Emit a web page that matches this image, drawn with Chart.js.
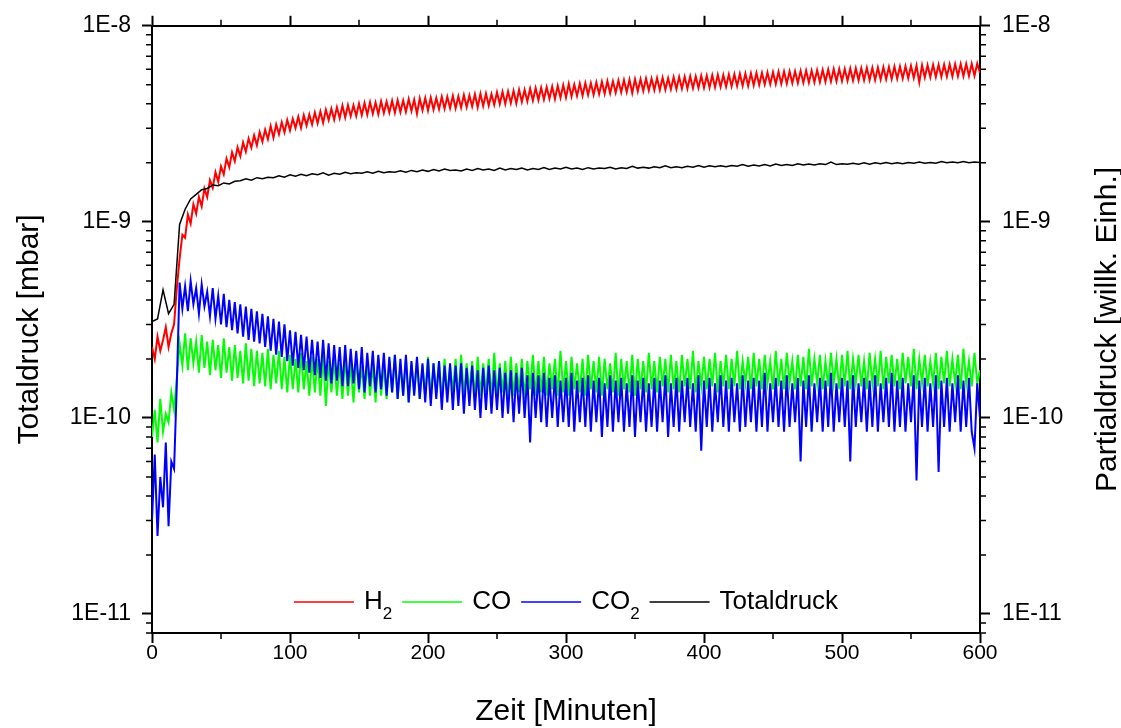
<!DOCTYPE html>
<html>
<head>
<meta charset="utf-8">
<script src="https://cdn.jsdelivr.net/npm/chart.js@4.4.1/dist/chart.umd.min.js"></script>
<style>
  html, body { margin: 0; padding: 0; background: #fff; }
  #wrap { width: 1121px; height: 728px; position: relative; }
</style>
</head>
<body>
<div id="wrap"><canvas id="myChart"></canvas></div>
<script>
// Zeit in Minuten (Partialdrücke, alle 2 min)
const zeit = [0,2,4,6,8,10,12,14,16,18,20,22,24,26,28,30,32,34,36,38,
  40,42,44,46,48,50,52,54,56,58,60,62,64,66,68,70,72,74,76,78,
  80,82,84,86,88,90,92,94,96,98,100,102,104,106,108,110,112,114,116,118,
  120,122,124,126,128,130,132,134,136,138,140,142,144,146,148,150,152,154,156,158,
  160,162,164,166,168,170,172,174,176,178,180,182,184,186,188,190,192,194,196,198,
  200,202,204,206,208,210,212,214,216,218,220,222,224,226,228,230,232,234,236,238,
  240,242,244,246,248,250,252,254,256,258,260,262,264,266,268,270,272,274,276,278,
  280,282,284,286,288,290,292,294,296,298,300,302,304,306,308,310,312,314,316,318,
  320,322,324,326,328,330,332,334,336,338,340,342,344,346,348,350,352,354,356,358,
  360,362,364,366,368,370,372,374,376,378,380,382,384,386,388,390,392,394,396,398,
  400,402,404,406,408,410,412,414,416,418,420,422,424,426,428,430,432,434,436,438,
  440,442,444,446,448,450,452,454,456,458,460,462,464,466,468,470,472,474,476,478,
  480,482,484,486,488,490,492,494,496,498,500,502,504,506,508,510,512,514,516,518,
  520,522,524,526,528,530,532,534,536,538,540,542,544,546,548,550,552,554,556,558,
  560,562,564,566,568,570,572,574,576,578,580,582,584,586,588,590,592,594,596,598,600];

// Zeit in Minuten (Totaldruck, alle 4 min)
const zeitTotal = [0,4,8,12,16,20,24,28,32,36,40,44,48,52,56,60,64,68,72,76,80,84,88,92,96,100,104,108,112,116,120,124,128,132,136,140,144,148,152,156,160,164,168,172,176,180,184,188,192,196,200,204,208,212,216,220,224,228,232,236,240,244,248,252,256,260,264,268,272,276,280,284,288,292,296,300,304,308,312,316,320,324,328,332,336,340,344,348,352,356,360,364,368,372,376,380,384,388,392,396,400,404,408,412,416,420,424,428,432,436,440,444,448,452,456,460,464,468,472,476,480,484,488,492,496,500,504,508,512,516,520,524,528,532,536,540,544,548,552,556,560,564,568,572,576,580,584,588,592,596,600];

// Werte in Einheiten von 1E-10
const h2 = [
  2.3, 2.0, 2.6, 2.2, 2.5, 2.9, 2.3, 2.7, 3.0, 4.6,
  6.5, 8.6, 8.3, 10.9, 9.8, 12.3, 11.0, 13.4, 12.0, 14.8,
  13.4, 16.3, 14.9, 17.9, 16.0, 19.2, 17.5, 21.0, 19.0, 22.6,
  20.4, 24.0, 21.6, 25.4, 22.8, 26.6, 23.9, 27.6, 24.6, 28.7,
  25.6, 29.5, 26.4, 30.8, 26.9, 31.4, 28.0, 32.2, 28.6, 33.1,
  29.3, 33.5, 30.1, 34.4, 30.2, 35.0, 31.0, 35.3, 31.4, 36.1,
  31.8, 36.5, 32.0, 37.3, 33.1, 37.8, 33.2, 38.4, 33.8, 39.2,
  34.1, 39.4, 34.6, 39.3, 34.7, 40.1, 35.0, 40.4, 35.2, 40.8,
  35.6, 40.6, 35.4, 41.2, 35.9, 41.0, 36.1, 41.5, 36.0, 41.7,
  36.3, 41.6, 36.4, 42.3, 36.8, 42.0, 35.6, 42.6, 37.1, 42.8,
  37.0, 43.0, 37.4, 42.8, 37.6, 43.5, 37.8, 43.4, 38.0, 43.9,
  38.0, 43.7, 38.3, 44.3, 38.5, 44.1, 38.8, 44.8, 38.4, 45.0,
  39.0, 45.1, 39.2, 44.8, 39.6, 45.8, 39.9, 46.1, 40.0, 46.3,
  40.4, 46.6, 40.2, 47.2, 41.0, 47.1, 41.2, 47.8, 41.6, 48.1,
  41.8, 48.3, 42.1, 48.6, 42.5, 49.0, 42.3, 49.4, 43.0, 49.8,
  43.1, 50.6, 43.6, 50.1, 43.9, 50.8, 44.0, 51.1, 44.4, 51.0,
  44.5, 51.4, 44.9, 51.8, 45.0, 52.2, 45.3, 52.1, 45.6, 52.6,
  45.8, 52.9, 46.0, 53.1, 45.4, 53.4, 46.4, 53.4, 46.6, 53.8,
  46.8, 53.8, 47.0, 54.2, 47.1, 54.4, 47.3, 54.1, 47.5, 54.7,
  47.6, 54.8, 47.8, 55.0, 47.9, 55.3, 48.1, 55.2, 48.2, 55.6,
  48.3, 55.6, 48.4, 55.9, 48.6, 56.2, 48.8, 56.0, 49.0, 56.5,
  49.1, 56.6, 49.3, 56.9, 49.5, 57.1, 49.4, 57.3, 49.8, 57.5,
  50.0, 57.5, 50.2, 57.8, 50.4, 58.0, 50.5, 58.3, 50.6, 58.4,
  50.8, 58.5, 51.0, 58.6, 51.1, 58.9, 51.3, 59.2, 51.4, 59.1,
  51.5, 59.4, 51.7, 59.6, 51.8, 59.8, 52.0, 60.1, 52.1, 60.2,
  52.3, 60.3, 52.4, 60.6, 52.6, 60.7, 52.7, 60.8, 52.8, 61.0,
  52.9, 61.1, 53.0, 61.3, 53.2, 61.5, 53.4, 61.7, 53.5, 61.9,
  53.7, 62.0, 53.9, 62.2, 54.0, 62.5, 54.2, 62.7, 51.5, 62.9,
  54.5, 63.0, 54.7, 63.2, 54.8, 63.3, 55.0, 63.5, 55.1, 63.7,
  55.2, 63.8, 55.3, 63.9, 55.4, 64.0, 55.5, 64.1, 55.6, 64.2,
  57.5];

const co = [
  0.80, 1.10, 0.75, 1.25, 0.85, 1.05, 0.95, 1.35, 1.10, 1.60,
  2.40, 1.85, 2.70, 1.75, 2.55, 1.90, 2.45, 1.70, 2.65, 1.80,
  2.45, 1.65, 2.50, 1.75, 2.35, 1.60, 2.55, 1.70, 2.30, 1.55,
  2.35, 1.60, 2.20, 1.50, 2.40, 1.55, 2.25, 1.45, 2.20, 1.50,
  2.15, 1.45, 2.25, 1.40, 2.10, 1.50, 2.20, 1.40, 2.05, 1.35,
  2.10, 1.40, 2.00, 1.35, 2.15, 1.40, 1.95, 1.30, 2.05, 1.35,
  2.00, 1.30, 2.10, 1.15, 1.95, 1.35, 2.00, 1.30, 1.90, 1.25,
  2.05, 1.30, 1.90, 1.20, 2.00, 1.35, 1.85, 1.25, 1.95, 1.30,
  1.90, 1.20, 2.00, 1.30, 1.85, 1.25, 1.95, 1.35, 2.10, 1.25,
  1.85, 1.30, 2.00, 1.20, 1.90, 1.35, 1.95, 1.25, 1.85, 1.30,
  2.05, 1.25, 1.90, 1.35, 1.95, 1.20, 2.00, 1.30, 1.85, 1.35,
  2.00, 1.25, 2.10, 1.30, 1.90, 1.35, 1.95, 1.25, 2.05, 1.30,
  1.90, 1.35, 2.00, 1.25, 2.15, 1.30, 1.90, 1.35, 1.95, 1.25,
  2.05, 1.30, 1.90, 1.35, 2.00, 1.25, 1.95, 1.40, 2.10, 1.30,
  1.95, 1.35, 2.05, 1.30, 1.90, 1.40, 2.00, 1.30, 2.20, 1.35,
  1.95, 1.30, 2.05, 1.40, 1.90, 1.35, 2.00, 1.30, 2.10, 1.40,
  1.95, 1.35, 2.05, 1.30, 2.00, 1.40, 1.90, 1.35, 2.15, 1.30,
  2.00, 1.40, 1.95, 1.35, 2.10, 1.30, 2.00, 1.40, 1.95, 1.35,
  2.15, 1.40, 1.95, 1.35, 2.05, 1.45, 2.00, 1.35, 2.10, 1.40,
  1.95, 1.35, 2.10, 1.45, 2.00, 1.40, 2.20, 1.35, 1.95, 1.45,
  2.05, 1.40, 2.00, 1.45, 2.15, 1.35, 1.95, 1.45, 2.10, 1.40,
  2.00, 1.45, 2.20, 1.40, 1.95, 1.50, 2.05, 1.40, 2.15, 1.45,
  2.00, 1.40, 2.10, 1.50, 1.95, 1.40, 2.20, 1.45, 2.00, 1.40,
  2.15, 1.50, 1.95, 1.40, 2.10, 1.45, 2.05, 1.40, 2.25, 1.45,
  2.00, 1.50, 2.10, 1.40, 1.95, 1.45, 2.15, 1.50, 2.00, 1.40,
  2.10, 1.45, 2.20, 1.40, 2.00, 1.50, 2.10, 1.45, 1.95, 1.40,
  2.15, 1.50, 2.00, 1.45, 2.20, 1.40, 2.05, 1.50, 2.10, 1.45,
  2.00, 1.40, 2.15, 1.50, 2.05, 1.45, 2.25, 1.40, 2.00, 1.50,
  2.10, 1.45, 1.95, 1.50, 2.15, 1.40, 2.05, 1.50, 2.20, 1.45,
  2.00, 1.50, 2.10, 1.40, 2.25, 1.50, 1.95, 1.45, 2.15, 1.50,
  1.75];

const co2 = [
  0.30, 0.65, 0.25, 0.50, 0.35, 0.75, 0.28, 0.60, 0.55, 1.50,
  4.9, 3.6, 4.7, 3.5, 5.0, 3.8, 4.6, 3.4, 4.8, 3.7,
  4.4, 3.3, 4.6, 3.2, 4.2, 3.0, 4.3, 2.9, 4.0, 2.8,
  3.9, 2.7, 3.8, 2.6, 3.7, 2.5, 3.6, 2.45, 3.5, 2.4,
  3.4, 2.3, 3.3, 2.2, 3.2, 2.1, 3.1, 2.05, 3.0, 1.95,
  2.8, 1.85, 2.75, 1.8, 2.65, 1.75, 2.6, 1.7, 2.5, 1.65,
  2.45, 1.6, 2.5, 1.55, 2.4, 1.5, 2.35, 1.55, 2.3, 1.45,
  2.35, 1.45, 2.25, 1.5, 2.2, 1.4, 2.3, 1.35, 2.15, 1.45,
  2.2, 1.35, 2.1, 1.4, 2.15, 1.3, 2.05, 1.35, 2.1, 1.25,
  2.0, 1.3, 2.1, 1.2, 1.95, 1.3, 2.05, 1.25, 1.9, 1.2,
  2.0, 1.15, 1.9, 1.25, 1.95, 1.1, 1.85, 1.2, 1.9, 1.1,
  1.85, 1.15, 1.9, 1.05, 1.8, 1.15, 1.85, 1.1, 1.75, 1.0,
  1.8, 1.1, 1.85, 1.05, 1.75, 1.1, 1.8, 1.0, 1.7, 1.05,
  1.75, 0.95, 1.7, 1.05, 1.8, 1.0, 1.65, 0.75, 1.7, 1.0,
  1.65, 0.95, 1.7, 0.9, 1.6, 1.0, 1.65, 0.9, 1.55, 0.95,
  1.6, 0.9, 1.7, 0.85, 1.55, 0.95, 1.6, 0.9, 1.65, 0.85,
  1.55, 0.95, 1.6, 0.8, 1.5, 0.9, 1.65, 0.85, 1.55, 0.95,
  1.6, 0.85, 1.5, 0.9, 1.65, 0.8, 1.55, 0.95, 1.6, 0.85,
  1.5, 0.9, 1.6, 0.85, 1.55, 0.95, 1.65, 0.8, 1.5, 0.9,
  1.6, 0.85, 1.55, 0.95, 1.6, 0.9, 1.5, 0.85, 1.65, 0.68,
  1.55, 0.9, 1.6, 0.85, 1.5, 0.95, 1.65, 0.9, 1.55, 0.85,
  1.6, 0.95, 1.5, 0.85, 1.65, 0.9, 1.55, 0.95, 1.6, 0.85,
  1.55, 0.9, 1.7, 0.85, 1.5, 0.95, 1.6, 0.9, 1.55, 0.85,
  1.65, 0.9, 1.5, 0.95, 1.6, 0.6, 1.55, 0.9, 1.65, 0.85,
  1.5, 0.95, 1.6, 0.85, 1.55, 0.9, 1.7, 0.85, 1.5, 0.95,
  1.6, 0.9, 1.55, 0.6, 1.65, 0.9, 1.5, 0.95, 1.6, 0.85,
  1.55, 0.9, 1.65, 0.85, 1.5, 0.95, 1.6, 0.9, 1.7, 0.85,
  1.55, 0.9, 1.6, 0.85, 1.5, 0.95, 1.65, 0.48, 1.55, 0.9,
  1.6, 0.85, 1.5, 0.9, 1.65, 0.53, 1.55, 0.9, 1.6, 0.85,
  1.5, 0.95, 1.65, 0.85, 1.55, 0.9, 1.6, 0.85, 0.7, 1.5,
  1.0];

const totaldruck = [3.1, 3.2, 4.5, 3.4, 3.8,
  9.7, 11.6, 13.1, 13.8, 14.6, 14.8, 15.4, 15.3, 15.8, 15.6,
  16.1, 16.2, 16.6, 16.3, 16.8, 16.6, 16.9, 16.8, 17.2, 16.9,
  17.4, 17.1, 17.5, 17.2, 17.6, 17.4, 17.8, 17.3, 17.7, 17.5,
  17.9, 17.6, 17.8, 17.7, 18.0, 17.7, 18.1, 17.8, 18.0, 17.9,
  18.2, 17.9, 18.3, 18.0, 18.4, 18.1, 18.5, 18.2, 18.6, 18.3,
  18.4, 18.2, 18.6, 18.3, 18.7, 18.4, 18.6, 18.3, 18.8, 18.4,
  18.7, 18.5, 18.8, 18.4, 18.7, 18.5, 18.9, 18.5, 18.8, 18.6,
  19.0, 18.6, 18.8, 18.5, 18.9, 18.6, 18.8, 18.7, 19.0, 18.6,
  18.9, 18.7, 19.2, 18.8, 19.0, 18.8, 19.1, 18.9, 19.3, 18.9,
  19.1, 18.9, 19.2, 19.0, 19.4, 19.0, 19.3, 19.1, 19.3, 19.1,
  19.4, 19.2, 19.6, 19.2, 19.5, 19.3, 19.6, 19.3, 19.7, 19.4,
  19.6, 19.4, 19.8, 19.5, 19.7, 19.5, 19.8, 19.6, 20.2, 19.6,
  19.8, 19.7, 19.9, 19.7, 20.0, 19.7, 20.0, 19.8, 20.1, 19.8,
  20.0, 19.8, 20.1, 19.9, 20.2, 19.9, 20.1, 19.9, 20.3, 20.0,
  20.2, 20.0, 20.3, 20.0, 20.2, 20.1];

const einheit = 1e-10;

// Achsen
const yTicks = [1e-11, 1e-10, 1e-9, 1e-8];
const yMinor = [8e-12, 9e-12,
  2e-11, 3e-11, 4e-11, 5e-11, 6e-11, 7e-11, 8e-11, 9e-11,
  2e-10, 3e-10, 4e-10, 5e-10, 6e-10, 7e-10, 8e-10, 9e-10,
  2e-9, 3e-9, 4e-9, 5e-9, 6e-9, 7e-9, 8e-9, 9e-9];
const xMinor = [50, 150, 250, 350, 450, 550];

const legende = [
  { text: 'H', sub: '2', color: '#ff0000' },
  { text: 'CO', sub: '', color: '#00ff00' },
  { text: 'CO', sub: '2', color: '#0000ff' },
  { text: 'Totaldruck', sub: '', color: '#000000' }
];

const FONT = "'Liberation Sans', Arial, sans-serif";
Chart.defaults.font.family = FONT;
Chart.defaults.color = '#000';

function punkte(zeiten, werte) {
  return zeiten.map((t, i) => ({ x: t, y: werte[i] * einheit }));
}

function lineDataset(label, zeiten, werte, color, order, breite) {
  return {
    label: label,
    data: punkte(zeiten, werte),
    borderColor: color,
    backgroundColor: color,
    borderWidth: breite,
    pointRadius: 0,
    tension: 0,
    fill: false,
    order: order
  };
}

// kleine Striche, rechter Titel und Legende
const extras = {
  id: 'extras',
  afterDraw(chart) {
    const ctx = chart.ctx;
    const { left, right, top, bottom } = chart.chartArea;
    ctx.save();
    ctx.strokeStyle = '#000';
    ctx.lineWidth = 1.5;
    const ys = chart.scales.y;
    for (const v of yMinor) {
      const p = ys.getPixelForValue(v);
      ctx.beginPath();
      ctx.moveTo(left - 6, p); ctx.lineTo(left, p);
      ctx.moveTo(right, p); ctx.lineTo(right + 6, p);
      ctx.stroke();
    }
    const xs = chart.scales.x;
    for (const v of xMinor) {
      const p = xs.getPixelForValue(v);
      ctx.beginPath();
      ctx.moveTo(p, bottom); ctx.lineTo(p, bottom + 6);
      ctx.moveTo(p, top); ctx.lineTo(p, top - 6);
      ctx.stroke();
    }

    // rechter Achsentitel
    ctx.fillStyle = '#000';
    ctx.font = '30px ' + FONT;
    ctx.textAlign = 'center';
    ctx.textBaseline = 'middle';
    ctx.translate(1108, (top + bottom) / 2);
    ctx.rotate(-Math.PI / 2);
    ctx.fillText('Partialdruck [willk. Einh.]', 0, 0);
    ctx.restore();

    // Legende
    ctx.save();
    const lineLen = 60, gap = 10, ly = 602;
    const mainFont = '26px ' + FONT, subFont = '17px ' + FONT;
    const widths = legende.map(it => {
      ctx.font = mainFont;
      let w = ctx.measureText(it.text).width;
      ctx.font = subFont;
      if (it.sub) w += ctx.measureText(it.sub).width;
      return w;
    });
    let total = 0;
    widths.forEach(w => total += lineLen + gap + w + gap);
    total -= gap;
    let x = (left + right) / 2 - total / 2;
    ctx.textBaseline = 'middle';
    ctx.textAlign = 'left';
    legende.forEach(it => {
      ctx.strokeStyle = it.color;
      ctx.lineWidth = 1.5;
      ctx.beginPath();
      ctx.moveTo(x, ly); ctx.lineTo(x + lineLen, ly);
      ctx.stroke();
      x += lineLen + gap;
      ctx.fillStyle = '#000';
      ctx.font = mainFont;
      ctx.fillText(it.text, x, ly);
      let tw = ctx.measureText(it.text).width;
      if (it.sub) {
        ctx.font = subFont;
        ctx.fillText(it.sub, x + tw, ly + 12);
        tw += ctx.measureText(it.sub).width;
      }
      x += tw + gap;
    });
    ctx.restore();
  }
};

const gridOpts = {
  drawOnChartArea: false,
  drawTicks: true,
  tickLength: 10,
  tickWidth: 2,
  tickColor: '#000'
};
const borderOpts = { display: true, color: '#000', width: 2 };
const logLabel = v => '1E' + Math.round(Math.log10(v));

const ctx = document.getElementById('myChart').getContext('2d');
const myChart = new Chart(ctx, {
  type: 'line',
  data: {
    datasets: [
      lineDataset('H2', zeit, h2, '#ff0000', 4, 2),
      lineDataset('CO', zeit, co, '#00ff00', 3, 2),
      lineDataset('CO2', zeit, co2, '#0000ff', 2, 2),
      lineDataset('Totaldruck', zeitTotal, totaldruck, '#000000', 1, 1.5)
    ]
  },
  options: {
    responsive: true,
    maintainAspectRatio: false,
    animation: false,
    events: [],
    layout: { padding: 0 },
    plugins: {
      legend: { display: false },
      tooltip: { enabled: false }
    },
    scales: {
      x: {
        type: 'linear', position: 'bottom', min: 0, max: 600,
        ticks: { stepSize: 100, maxRotation: 0, padding: 0, font: { size: 21, lineHeight: 1 } },
        grid: gridOpts,
        border: borderOpts,
        title: { display: true, text: 'Zeit [Minuten]', font: { size: 30, lineHeight: 1 }, padding: { top: 0, bottom: 1 } },
        afterFit: s => { s.height = 95; }
      },
      x2: {
        type: 'linear', position: 'top', min: 0, max: 600,
        ticks: { stepSize: 100, display: false },
        grid: gridOpts,
        border: borderOpts,
        afterFit: s => { s.height = 22; }
      },
      y: {
        type: 'logarithmic', position: 'left', min: 8e-12, max: 1e-8,
        afterBuildTicks: s => { s.ticks = yTicks.map(v => ({ value: v })); },
        ticks: { callback: logLabel, padding: 11, font: { size: 23 } },
        grid: gridOpts,
        border: borderOpts,
        title: { display: true, text: 'Totaldruck [mbar]', font: { size: 30, lineHeight: 1 }, padding: { top: 15, bottom: 0 } },
        afterFit: s => { s.width = 152; }
      },
      y2: {
        type: 'logarithmic', position: 'right', min: 8e-12, max: 1e-8,
        afterBuildTicks: s => { s.ticks = yTicks.map(v => ({ value: v })); },
        ticks: { callback: logLabel, padding: 12, font: { size: 23 } },
        grid: gridOpts,
        border: borderOpts,
        afterFit: s => { s.width = 141; }
      }
    }
  },
  plugins: [extras]
});
</script>
</body>
</html>
